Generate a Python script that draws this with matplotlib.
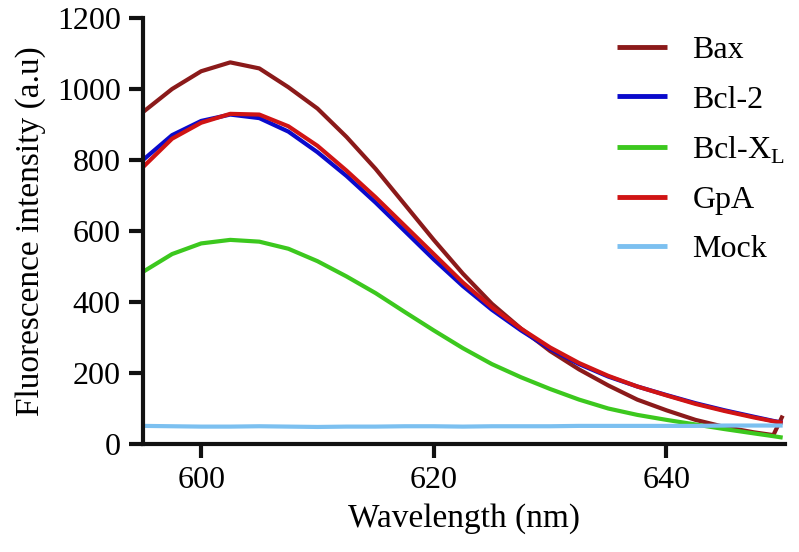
import matplotlib
matplotlib.use("Agg")
import matplotlib.pyplot as plt

wavelength = [595, 597.5, 600, 602.5, 605, 607.5, 610, 612.5, 615, 617.5, 620, 622.5,
              625, 627.5, 630, 632.5, 635, 637.5, 640, 642.5, 645, 647.5, 649.2, 650]
bax = [935, 1000, 1050, 1075, 1058, 1005, 945, 865, 775, 675, 575, 480,
       395, 325, 262, 210, 165, 125, 95, 68, 48, 33, 25, 80]
bcl2 = [800, 870, 910, 928, 918, 880, 822, 755, 680, 600, 520, 445,
        378, 320, 268, 225, 190, 162, 138, 115, 95, 77, 65, 60]
bclxl = [485, 535, 565, 575, 570, 550, 515, 472, 425, 372, 320, 270,
         225, 188, 155, 125, 100, 82, 68, 55, 42, 30, 22, 18]
gpa = [780, 860, 905, 930, 928, 895, 840, 770, 695, 615, 535, 455,
       385, 325, 272, 228, 192, 162, 137, 113, 93, 75, 64, 60]
mock = [51, 50, 49, 49, 50, 49, 48, 49, 49, 50, 50, 49,
        50, 50, 50, 51, 51, 51, 51, 51, 52, 52, 52, 52]

labels = ["Bax", "Bcl-2", "Bcl-X$_\\mathregular{L}$", "GpA", "Mock"]
series = [bax, bcl2, bclxl, gpa, mock]
colors = ["#8B1A1A", "#0A0ACC", "#3CC81E", "#D01414", "#7CC0F0"]
xticks = [600, 620, 640]
yticks = [0, 200, 400, 600, 800, 1000, 1200]

plt.rcParams['font.family'] = ['Liberation Serif', 'DejaVu Serif']
plt.rcParams['mathtext.fontset'] = 'custom'
plt.rcParams['mathtext.rm'] = 'Liberation Serif'

fig = plt.figure(figsize=(7.99, 5.52), dpi=100)
ax = fig.add_axes([143/799, 1-444/552, (785-143)/799, (444-18)/552])

for s, c, l in zip(series, colors, labels):
    ax.plot(wavelength, s, color=c, lw=3, label=l, solid_capstyle='butt')

ax.set_xlim(595, 650.2)
ax.set_ylim(0, 1200)
ax.set_xticks(xticks)
ax.set_yticks(yticks)
for sp in ['top', 'right']:
    ax.spines[sp].set_visible(False)
for sp in ['left', 'bottom']:
    ax.spines[sp].set_linewidth(3)
    ax.spines[sp].set_color('#111111')
ax.tick_params(axis='both', length=10, width=3, labelsize=23, color='#111111', pad=6)
ax.set_xlabel("Wavelength (nm)", fontsize=24, labelpad=6)
ax.set_ylabel("Fluorescence intensity (a.u)", fontsize=24, labelpad=8)

leg = ax.legend(loc='upper right', bbox_to_anchor=(1.045, 1.025), frameon=False,
                fontsize=23, handlelength=1.55, labelspacing=0.62, handletextpad=0.8)
for h in leg.get_lines():
    h.set_linewidth(3.5)

fig.savefig("out.png", dpi=100)
